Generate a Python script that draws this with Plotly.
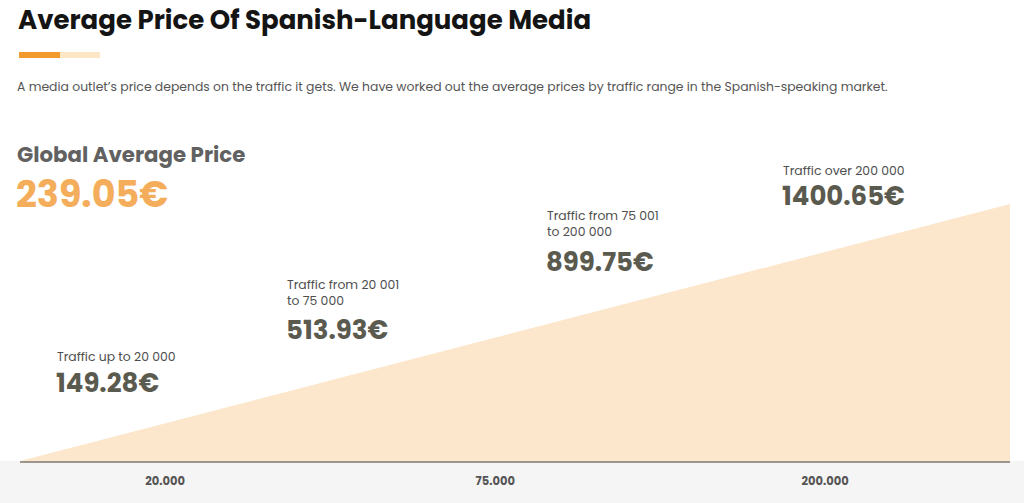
import plotly.graph_objects as go

# ---- data ----
range_labels = ["Traffic up to 20 000",
                "Traffic from 20 001<br>to 75 000",
                "Traffic from 75 001<br>to 200 000",
                "Traffic over 200 000"]
prices = [149.28, 513.93, 899.75, 1400.65]
tick_labels = ["20.000", "75.000", "200.000"]
global_average = 239.05

title = "Average Price Of Spanish-Language Media"
subtitle = ("A media outlet\u2019s price depends on the traffic it gets. We have worked out the "
            "average prices by traffic range in the Spanish-speaking market.")

FONT = "Poppins, 'Open Sans', sans-serif"
W, H = 1024, 503
L, R, T, B = 20, 14, 204, 42
plot_h = H - T - B
plot_w = W - L - R


def px_x(px):
    return (px - L) / plot_w


def px_y(py):
    return (H - B - py) / plot_h


n = len(range_labels)
fig = go.Figure()
fig.add_trace(go.Scatter(
    x=[0, n - 1], y=[0, max(prices)],
    mode="lines", line=dict(width=0, color="rgba(0,0,0,0)"),
    fill="tozeroy", fillcolor="#fde7cc", hoverinfo="skip", showlegend=False))

annotations = []
# title block
annotations.append(dict(text="<b>%s</b>" % title, x=px_x(16), y=px_y(20), xanchor="left",
                        yanchor="middle", font=dict(size=26, color="#141414", family=FONT)))
annotations.append(dict(text=subtitle, x=px_x(15), y=px_y(86), xanchor="left", yanchor="middle",
                        font=dict(size=12.4, color="#555555", family=FONT)))
annotations.append(dict(text="<b>Global Average Price</b>", x=px_x(15), y=px_y(154),
                        xanchor="left", yanchor="middle",
                        font=dict(size=21.3, color="#616161", family=FONT)))
annotations.append(dict(text="<b>%.2f\u20ac</b>" % global_average, x=px_x(14), y=px_y(195),
                        xanchor="left", yanchor="middle",
                        font=dict(size=36.5, color="#f4ad5a", family=FONT)))

# per-range labels (pixel layout positions)
label_x = [55, 285, 545, 781]
label_y = [356, 292, 223, 170]
price_y = [383, 330, 262, 196]
for lab, p, lx, ly, py in zip(range_labels, prices, label_x, label_y, price_y):
    annotations.append(dict(text=lab, x=px_x(lx), y=px_y(ly), xanchor="left", yanchor="middle",
                            align="left", font=dict(size=12.4, color="#4e4e4e", family=FONT)))
    annotations.append(dict(text="<b>%.2f\u20ac</b>" % p, x=px_x(lx - 1), y=px_y(py),
                            xanchor="left", yanchor="middle",
                            font=dict(size=26, color="#5a5a4f", family=FONT)))

for a in annotations:
    a.update(xref="paper", yref="paper", showarrow=False)

shapes = [
    # bottom grey band
    dict(type="rect", xref="paper", yref="paper", x0=px_x(0), x1=px_x(W), y0=px_y(H), y1=px_y(461),
         fillcolor="#f5f5f5", line=dict(width=0), layer="below"),
    # orange underline accent
    dict(type="rect", xref="paper", yref="paper", x0=px_x(19), x1=px_x(60), y0=px_y(58), y1=px_y(52),
         fillcolor="#f39a2e", line=dict(width=0)),
    dict(type="rect", xref="paper", yref="paper", x0=px_x(60), x1=px_x(100), y0=px_y(58), y1=px_y(52),
         fillcolor="#fde6c4", line=dict(width=0)),
]

fig.update_layout(
    width=W, height=H,
    margin=dict(l=L, r=R, t=T, b=B),
    paper_bgcolor="white", plot_bgcolor="rgba(0,0,0,0)",
    annotations=annotations, shapes=shapes,
    xaxis=dict(range=[0, n - 1], showgrid=False, zeroline=False, showline=True,
               linecolor="#9d968f", linewidth=2,
               tickvals=[i + 0.44 for i in range(len(tick_labels))],
               ticktext=["<b>%s</b>" % t for t in tick_labels],
               tickfont=dict(size=11.5, color="#555555", family=FONT),
               ticks="", ticklabelstandoff=8, fixedrange=True),
    yaxis=dict(range=[0, max(prices)], visible=False, fixedrange=True),
    showlegend=False,
)

fig.write_html("out.html", config={"displayModeBar": False},
               post_script="document.body.style.margin='0';document.body.style.overflow='hidden';")
